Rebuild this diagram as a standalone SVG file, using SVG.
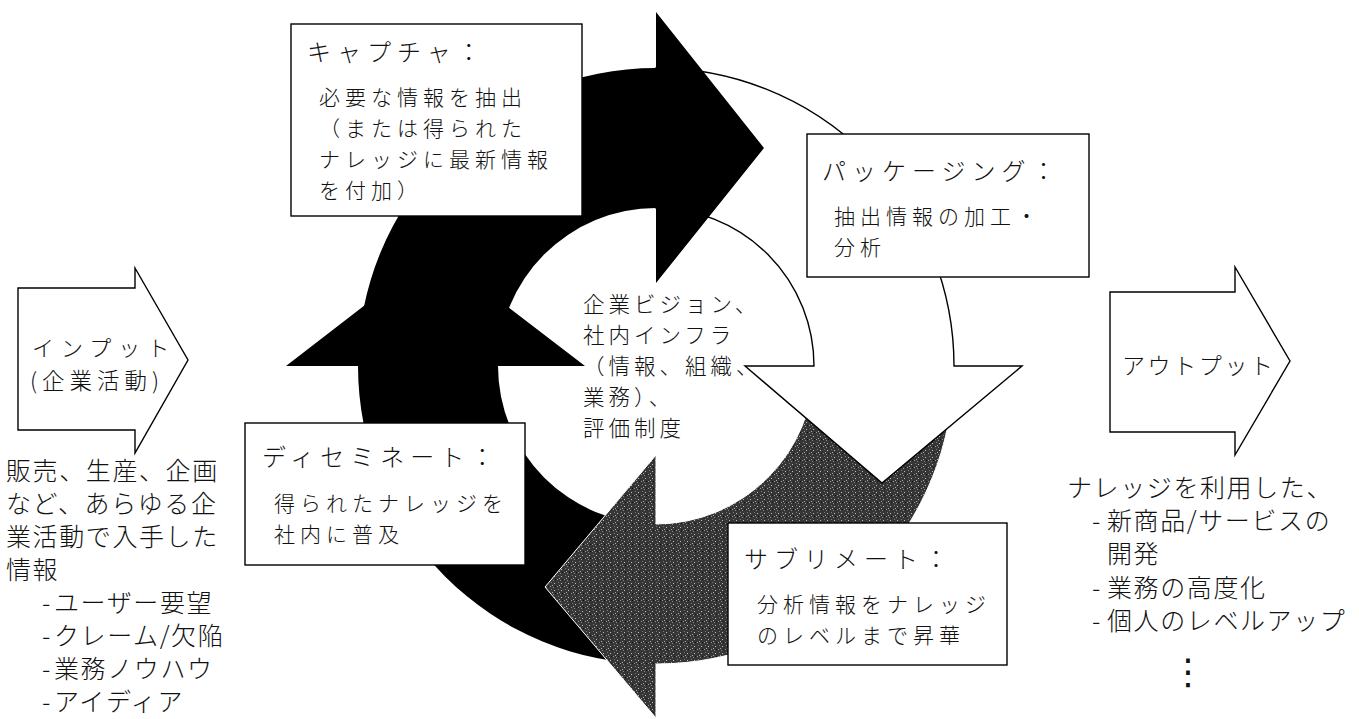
<svg xmlns="http://www.w3.org/2000/svg" width="1359" height="719" viewBox="0 0 1359 719">
<style>
  text { font-family: "Noto Sans CJK JP", "Noto Sans CJK SC", sans-serif; fill: #111; font-weight: 300; }
  .title { font-size: 24px; letter-spacing: 6px; }
  .body { font-size: 21px; letter-spacing: 5px; }
  .center { font-size: 21.5px; letter-spacing: 4px; }
  .side { font-size: 25px; letter-spacing: 1.6px; }
  .box { fill: #fff; stroke: #000; stroke-width: 1.4; }
  .io { fill: #fff; stroke: #000; stroke-width: 1.4; stroke-linejoin: miter; }
  .black { fill: #000; }
  .white { fill: #fff; stroke: #000; stroke-width: 1.4; stroke-linejoin: miter; }
  .gray { fill: url(#grain); stroke: #fff; stroke-width: 1; }
</style>
<defs>
  <pattern id="grain" width="7" height="7" patternUnits="userSpaceOnUse">
    <rect width="7" height="7" fill="#363636"/>
    <rect x="1" y="2" width="1" height="1" fill="#c0c0c0"/>
    <rect x="4" y="5" width="1" height="1" fill="#9a9a9a"/>
    <rect x="5" y="1" width="1" height="1" fill="#7a7a7a"/>
    <rect x="2" y="5" width="1" height="1" fill="#111"/>
    <rect x="6" y="4" width="1" height="1" fill="#aaa"/>
    <rect x="0" y="6" width="1" height="1" fill="#888"/>
  </pattern>
</defs>
<rect width="1359" height="719" fill="#fff"/>

<g id="connectors">
  <path id="arrow-disseminate" class="black" d="M 656 664 A 298 298 0 0 1 358 366 L 286 366 L 435 251 L 585 366 L 498 366 A 158 158 0 0 0 656 524 Z"/>
  <path id="arrow-sublimate" class="gray" d="M 954 366 A 298 298 0 0 1 656 664 L 656 718 L 545 587 L 656 455 L 656 524 A 158 158 0 0 0 814 366 Z"/>
  <path id="arrow-packaging" class="white" d="M 656 68 A 298 298 0 0 1 954 366 L 1022 366 L 882 483 L 745 366 L 814 366 A 158 158 0 0 0 656 208 Z"/>
  <path id="arrow-capture" class="black" d="M 358 366 A 298 298 0 0 1 656 68 L 656 12 L 764 148 L 656 283 L 656 208 A 158 158 0 0 0 498 366 Z"/>
</g>

<g id="center">
  <text class="center" x="583" y="312">企業ビジョン、</text>
  <text class="center" x="583" y="343">社内インフラ</text>
  <text class="center" x="583" y="374">（情報、組織、</text>
  <text class="center" x="583" y="405">業務）、</text>
  <text class="center" x="583" y="436">評価制度</text>
</g>

<g id="capture">
  <rect class="box" x="291" y="24" width="291" height="192"/>
  <text class="title" x="307" y="61">キャプチャ：</text>
  <text class="body" x="319" y="105">必要な情報を抽出</text>
  <text class="body" x="319" y="136">（または得られた</text>
  <text class="body" x="319" y="167">ナレッジに最新情報</text>
  <text class="body" x="319" y="198">を付加）</text>
</g>

<g id="packaging">
  <rect class="box" x="807" y="134" width="282" height="143"/>
  <text class="title" x="822" y="180">パッケージング：</text>
  <text class="body" x="834" y="224">抽出情報の加工・</text>
  <text class="body" x="834" y="255">分析</text>
</g>

<g id="sublimate">
  <rect class="box" x="728" y="523" width="279" height="142"/>
  <text class="title" x="744" y="568">サブリメート：</text>
  <text class="body" x="757" y="612">分析情報をナレッジ</text>
  <text class="body" x="757" y="643">のレベルまで昇華</text>
</g>

<g id="disseminate">
  <rect class="box" x="245" y="423" width="280" height="142"/>
  <text class="title" x="262" y="466">ディセミネート：</text>
  <text class="body" x="274" y="511">得られたナレッジを</text>
  <text class="body" x="274" y="542">社内に普及</text>
</g>

<g id="input">
  <path class="io" d="M 18 288 H 135 V 268 L 188 360 L 135 453 V 430 H 18 Z"/>
  <text x="32" y="356" style="font-size:22px;letter-spacing:7px">インプット</text>
  <text x="30" y="389" style="font-size:22.5px;letter-spacing:5px">(企業活動)</text>
</g>

<g id="input-notes">
  <text class="side" x="6" y="480">販売、生産、企画</text>
  <text class="side" x="6" y="513">など、あらゆる企</text>
  <text class="side" x="6" y="546">業活動で入手した</text>
  <text class="side" x="6" y="579">情報</text>
  <text class="side" y="612"><tspan x="42">-</tspan><tspan x="54">ユーザー要望</tspan></text>
  <text class="side" y="645"><tspan x="42">-</tspan><tspan x="54">クレーム/欠陥</tspan></text>
  <text class="side" y="678"><tspan x="42">-</tspan><tspan x="54">業務ノウハウ</tspan></text>
  <text class="side" y="711"><tspan x="42">-</tspan><tspan x="54">アイディア</tspan></text>
</g>

<g id="output">
  <path class="io" d="M 1110 292 H 1235 V 267 L 1290 361 L 1235 455 V 432 H 1110 Z"/>
  <text x="1122" y="374" style="font-size:23px;letter-spacing:2.6px">アウトプット</text>
</g>

<g id="output-notes">
  <text class="side" x="1067" y="497">ナレッジを利用した、</text>
  <text class="side" y="530"><tspan x="1092">-</tspan><tspan x="1107">新商品/サービスの</tspan></text>
  <text class="side" x="1107" y="563">開発</text>
  <text class="side" y="597"><tspan x="1092">-</tspan><tspan x="1107">業務の高度化</tspan></text>
  <text class="side" y="630"><tspan x="1092">-</tspan><tspan x="1107">個人のレベルアップ</tspan></text>
  <text x="1188" y="684" text-anchor="middle" style="font-family:'DejaVu Sans',sans-serif;font-size:36px;font-weight:400">⋮</text>
</g>
</svg>
